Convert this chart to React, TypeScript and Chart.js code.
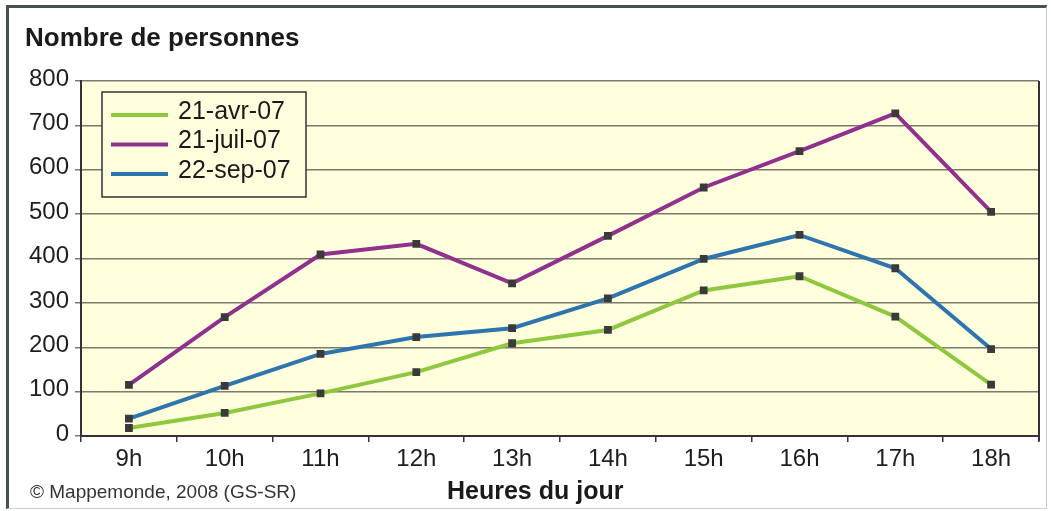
import React, { useEffect, useRef } from 'react';
import { Chart, registerables } from 'chart.js';

Chart.register(...registerables);

const hours = ['9h', '10h', '11h', '12h', '13h', '14h', '15h', '16h', '17h', '18h'];
const avr07 = [18, 52, 96, 144, 209, 239, 328, 360, 269, 116];
const juil07 = [115, 268, 409, 433, 344, 451, 560, 642, 727, 505];
const sep07 = [39, 113, 185, 223, 243, 310, 399, 453, 378, 196];
const seriesNames = ['21-avr-07', '21-juil-07', '22-sep-07'];
const seriesColors = ['#8FC73E', '#91318E', '#2E74AD'];

const FONT = '"Liberation Sans", Arial, Helvetica, sans-serif';
const PLOT_BG = '#FFFFDE';

const framePlugin = {
  id: 'framePlugin',
  beforeDraw(chart: any) {
    const { ctx, chartArea: a } = chart;
    ctx.save();
    ctx.fillStyle = PLOT_BG;
    ctx.fillRect(a.left, a.top, a.right - a.left, a.bottom - a.top);
    ctx.restore();
  },
  afterDraw(chart: any) {
    const { ctx, chartArea: a } = chart;
    ctx.save();
    ctx.strokeStyle = '#333333';
    ctx.lineWidth = 2;
    ctx.beginPath();
    ctx.moveTo(a.right, a.top);
    ctx.lineTo(a.right, a.bottom + 5);
    ctx.stroke();

    const x = a.left + 21;
    const y = a.top + 11;
    const w = 204;
    const h = 105;
    ctx.fillStyle = PLOT_BG;
    ctx.fillRect(x, y, w, h);
    ctx.strokeStyle = '#333333';
    ctx.lineWidth = 1.5;
    ctx.strokeRect(x, y, w, h);
    chart.data.datasets.forEach((ds: any, i: number) => {
      const cy = y + 20 + i * 29.5;
      ctx.strokeStyle = ds.borderColor;
      ctx.lineWidth = 4;
      ctx.beginPath();
      ctx.moveTo(x + 9, cy + 3);
      ctx.lineTo(x + 66, cy + 3);
      ctx.stroke();
      ctx.fillStyle = '#1a1a1a';
      ctx.font = `25px ${FONT}`;
      ctx.textBaseline = 'middle';
      ctx.textAlign = 'left';
      ctx.fillText(ds.label, x + 76, cy);
    });
    ctx.restore();
  },
};

export default function App() {
  const canvasRef = useRef<HTMLCanvasElement | null>(null);

  useEffect(() => {
    if (!canvasRef.current) return;
    const mk = (i: number, data: number[]) => ({
      label: seriesNames[i],
      data,
      borderColor: seriesColors[i],
      backgroundColor: '#3a3a3a',
      borderWidth: 4,
      pointStyle: 'rect' as const,
      pointRadius: 5.5,
      pointBackgroundColor: '#3a3a3a',
      pointBorderColor: '#3a3a3a',
      pointBorderWidth: 0,
      tension: 0,
      fill: false,
    });
    const chart = new Chart(canvasRef.current, {
      type: 'line',
      data: {
        labels: hours,
        datasets: [mk(0, avr07), mk(1, juil07), mk(2, sep07)],
      },
      options: {
        animation: false,
        responsive: false,
        devicePixelRatio: 1,
        layout: { padding: { left: 0, top: 81, right: 12, bottom: 0 } },
        plugins: {
          legend: { display: false },
          tooltip: { enabled: false },
          title: { display: false },
        },
        scales: {
          x: {
            type: 'category',
            offset: true,
            grid: {
              offset: true,
              drawOnChartArea: false,
              drawTicks: true,
              tickLength: 6,
              color: '#333333',
              lineWidth: 1.5,
            },
            border: { display: true, color: '#333333', width: 2 },
            ticks: {
              color: '#1e1e1e',
              font: { family: FONT, size: 24 },
              padding: 3,
              maxRotation: 0,
              autoSkip: false,
            },
            afterFit(scale: any) {
              scale.height = 75;
            },
          },
          y: {
            min: 0,
            max: 800,
            grid: {
              color: '#7b7b6b',
              lineWidth: 1.5,
              tickLength: 6,
              drawTicks: true,
            },
            border: { display: true, color: '#333333', width: 2 },
            ticks: {
              stepSize: 100,
              color: '#1e1e1e',
              font: { family: FONT, size: 24 },
              padding: 6,
              labelOffset: -2,
            },
            afterFit(scale: any) {
              scale.width = 81;
            },
          },
        },
      },
      plugins: [framePlugin],
    });
    return () => chart.destroy();
  }, []);

  const textBase: React.CSSProperties = {
    position: 'absolute',
    fontFamily: FONT,
    lineHeight: 1,
    whiteSpace: 'nowrap',
    color: '#1a1a1a',
  };

  return (
    <div
      style={{
        position: 'fixed',
        left: 0,
        top: 0,
        width: 1051,
        height: 511,
        background: '#ffffff',
        overflow: 'hidden',
      }}
    >
      <div
        style={{
          position: 'absolute',
          left: 6,
          top: 5,
          right: 4,
          bottom: 2,
          borderLeft: '3px solid #45524f',
          borderTop: '3px solid #45524f',
          borderRight: '1px solid #c8c8c8',
          borderBottom: '1px solid #d0d0d0',
        }}
      />
      <canvas
        ref={canvasRef}
        width={1051}
        height={511}
        style={{ position: 'absolute', left: 0, top: 0, width: 1051, height: 511 }}
      />
      <div style={{ ...textBase, left: 25, top: 24, fontSize: 26, fontWeight: 700 }}>
        Nombre de personnes
      </div>
      <div style={{ ...textBase, left: 447, top: 478, fontSize: 25, fontWeight: 700 }}>
        Heures du jour
      </div>
      <div style={{ ...textBase, left: 30, top: 482, fontSize: 19, color: '#333333' }}>
        © Mappemonde, 2008 (GS-SR)
      </div>
    </div>
  );
}
